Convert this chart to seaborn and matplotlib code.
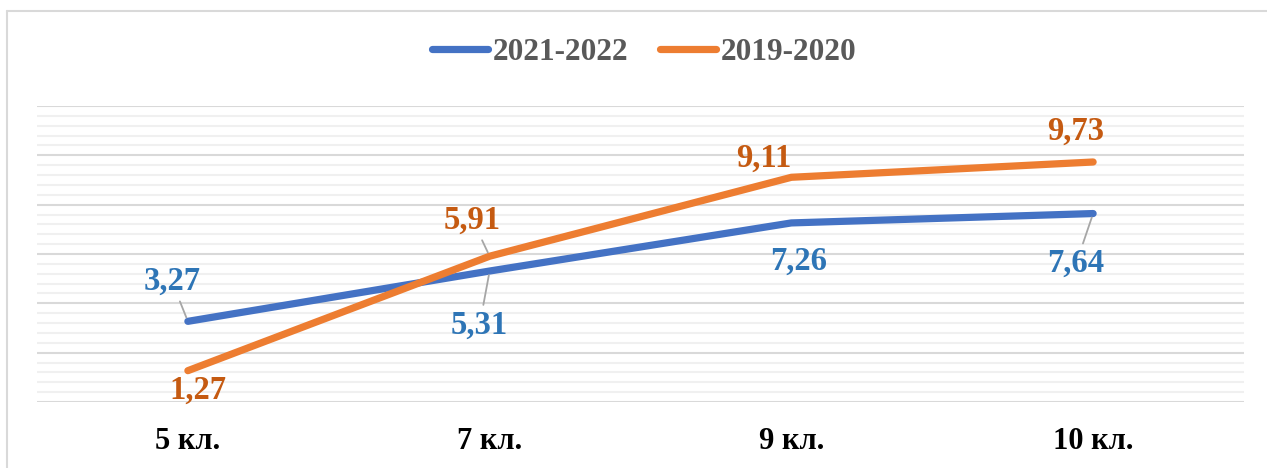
import matplotlib
matplotlib.use("Agg")
import matplotlib.pyplot as plt
import seaborn as sns
import pandas as pd
from matplotlib.lines import Line2D
from matplotlib.ticker import MultipleLocator

categories = ["5 кл.", "7 кл.", "9 кл.", "10 кл."]
series_names = ["2021-2022", "2019-2020"]
values_2021 = [3.27, 5.31, 7.26, 7.64]
values_2019 = [1.27, 5.91, 9.11, 9.73]

line_colors = {"2021-2022": "#4472C4", "2019-2020": "#ED7D31"}
label_colors = {"2021-2022": "#2E75B6", "2019-2020": "#C55A11"}

df = pd.DataFrame({
    "cat": categories * 2,
    "value": values_2021 + values_2019,
    "series": [series_names[0]] * 4 + [series_names[1]] * 4,
})

sns.set_theme(style="white")
plt.rcParams["font.family"] = ["Liberation Serif", "DejaVu Serif"]

W, H = 1267, 468
fig = plt.figure(figsize=(W / 100, H / 100), dpi=100)
ax = fig.add_axes([37 / W, 1 - 402 / H, (1244 - 37) / W, (402 - 106) / H])

sns.lineplot(data=df, x="cat", y="value", hue="series", palette=line_colors,
             sort=False, lw=5.2, ax=ax, legend=False, zorder=3)
for ln in ax.get_lines():
    ln.set_solid_capstyle("round")
    ln.set_solid_joinstyle("round")

ax.set_xlim(-0.5, 3.5)
ax.set_ylim(0, 12)
ax.yaxis.set_major_locator(MultipleLocator(2))
ax.yaxis.set_minor_locator(MultipleLocator(0.4))
ax.grid(which="major", axis="y", color="#d9d9d9", lw=1.5, zorder=0)
ax.grid(which="minor", axis="y", color="#f0f0f0", lw=1.5, zorder=0)
ax.grid(which="major", axis="x", visible=False)
ax.set_axisbelow(True)
for s in ax.spines.values():
    s.set_visible(False)
ax.tick_params(axis="y", which="both", left=False, labelleft=False)
ax.tick_params(axis="x", length=0, pad=18)
ax.set_xlabel("")
ax.set_ylabel("")
for t in ax.get_xticklabels():
    t.set_fontsize(22)
    t.set_fontweight("bold")
    t.set_color("black")

# data labels: (dx px, dy px, leader line)
offsets = {
    "2021-2022": [(-16, 40, True), (-10, -54, True), (7, -38, False), (-17, -50, True)],
    "2019-2020": [(10, -20, False), (-17, 36, True), (-28, 19, False), (-18, 31, False)],
}
vals = {"2021-2022": values_2021, "2019-2020": values_2019}
for name in series_names:
    for i, v in enumerate(vals[name]):
        dx, dy, leader = offsets[name][i]
        kw = {}
        if leader:
            kw["arrowprops"] = dict(arrowstyle="-", color="#a6a6a6", lw=1.3,
                                    shrinkA=1, shrinkB=3)
        ax.annotate(f"{v:.2f}".replace(".", ","), xy=(i, v),
                    xytext=(dx, dy), textcoords="offset pixels",
                    ha="center", va="center", fontsize=23.5, fontweight="bold",
                    color=label_colors[name], zorder=5, **kw)

handles = [Line2D([0], [0], color=line_colors[n], lw=5.2, solid_capstyle="round")
           for n in series_names]
leg = fig.legend(handles, series_names, loc="center", bbox_to_anchor=(644 / W, 1 - 52 / H),
                 ncol=2, frameon=False, handlelength=1.8, handletextpad=0.15,
                 columnspacing=1.0, prop={"size": 22.5, "weight": "bold"})
for t in leg.get_texts():
    t.set_color("#595959")

# outer frame (top and left edges visible)
fig.add_artist(Line2D([7 / W, 1], [1 - 11 / H, 1 - 11 / H], color="#d9d9d9", lw=1.5,
                      transform=fig.transFigure))
fig.add_artist(Line2D([7 / W, 7 / W], [0, 1 - 11 / H], color="#d9d9d9", lw=1.5,
                      transform=fig.transFigure))

fig.savefig("out.png", dpi=100, facecolor="white")
